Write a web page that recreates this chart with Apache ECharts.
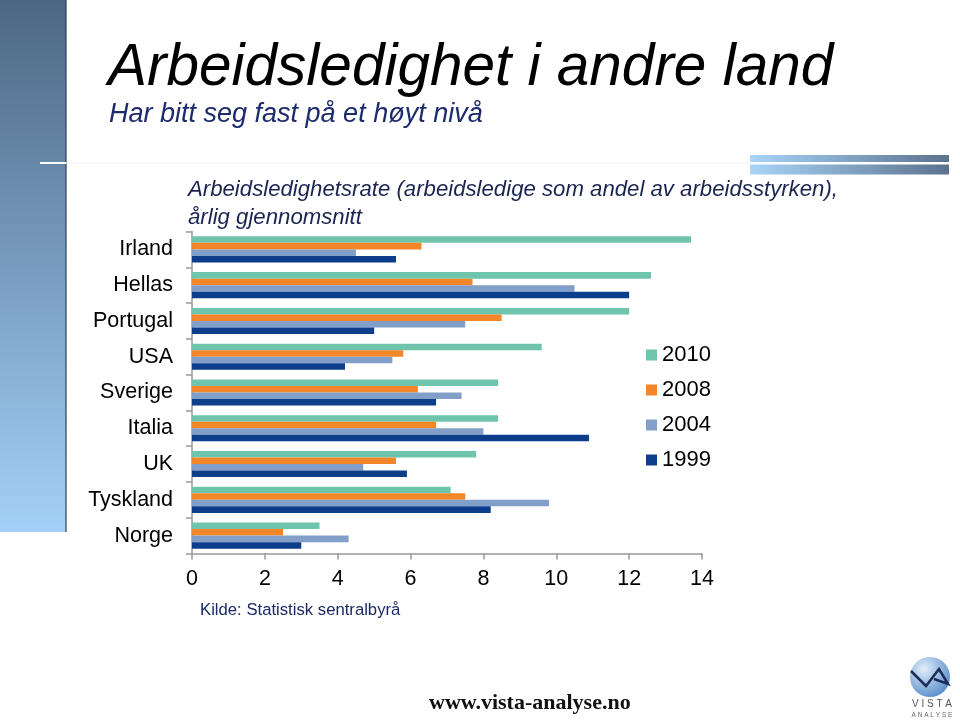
<!DOCTYPE html>
<html>
<head>
<meta charset="utf-8">
<script src="https://cdn.jsdelivr.net/npm/echarts@6/dist/echarts.min.js"></script>
<style>html,body{margin:0;padding:0;background:#fff}#c{width:960px;height:720px}</style>
</head>
<body>
<div id="c"></div>
<script>
const categories = ['Irland','Hellas','Portugal','USA','Sverige','Italia','UK','Tyskland','Norge'];
const years = ['2010','2008','2004','1999'];
const v2010 = [13.7, 12.6, 12.0, 9.6, 8.4, 8.4, 7.8, 7.1, 3.5];
const v2008 = [6.3, 7.7, 8.5, 5.8, 6.2, 6.7, 5.6, 7.5, 2.5];
const v2004 = [4.5, 10.5, 7.5, 5.5, 7.4, 8.0, 4.7, 9.8, 4.3];
const v1999 = [5.6, 12.0, 5.0, 4.2, 6.7, 10.9, 5.9, 8.2, 3.0];
const xTicks = [0, 2, 4, 6, 8, 10, 12, 14];

const colors = ['#6EC5AC', '#F4862A', '#829FC9', '#0D3E8C'];
const seriesData = [v2010, v2008, v2004, v1999];

const chart = echarts.init(document.getElementById('c'));
const FF = '"Liberation Sans", Arial, sans-serif';
chart.setOption({
  animation: false,
  color: colors,
  grid: { left: 192, right: 258, top: 231.5, bottom: 166.5, containLabel: false },
  legend: {
    data: years,
    orient: 'vertical',
    left: 641, top: 339,
    itemWidth: 11, itemHeight: 11, itemGap: 13,
    icon: 'rect',
    textStyle: { fontFamily: FF, fontSize: 22, color: '#000', padding: [0,0,0,0] }
  },
  xAxis: {
    type: 'value', min: xTicks[0], max: xTicks[xTicks.length-1], interval: 2,
    splitLine: { show: false },
    axisLine: { show: true, lineStyle: { color: '#999', width: 1.5 } },
    axisTick: { show: true, length: 6, lineStyle: { color: '#999', width: 1.5 } },
    axisLabel: { fontFamily: FF, fontSize: 21.5, color: '#000', margin: 15 }
  },
  yAxis: {
    type: 'category', data: categories, inverse: true,
    axisLine: { show: true, lineStyle: { color: '#999', width: 1.5 } },
    axisTick: { show: true, length: 6, lineStyle: { color: '#999', width: 1.5 } },
    axisLabel: { fontFamily: FF, fontSize: 21.5, color: '#000', margin: 19 }
  },
  series: years.map((y, i) => ({
    name: y, type: 'bar', data: seriesData[i],
    barGap: '0%', barCategoryGap: '27%',
    itemStyle: { color: colors[i] }
  })),
  graphic: [
    { type: 'rect', shape: { x: 0, y: 0, width: 66, height: 532 },
      style: { fill: new echarts.graphic.LinearGradient(0,0,0,1,[{offset:0,color:'#4C6784'},{offset:1,color:'#A4D1F9'}]) }, z: -1 },
    { type: 'line', shape: { x1: 66, y1: 0, x2: 66, y2: 532 }, style: { stroke: '#2E3F52', lineWidth: 1.2 } },
    { type: 'line', shape: { x1: 40, y1: 163, x2: 66, y2: 163 }, style: { stroke: '#ffffff', lineWidth: 2 } },
    { type: 'line', shape: { x1: 66, y1: 163, x2: 750, y2: 163 }, style: { stroke: '#f0f0f0', lineWidth: 1 } },
    { type: 'rect', shape: { x: 750, y: 155, width: 199, height: 7 },
      style: { fill: new echarts.graphic.LinearGradient(0,0,1,0,[{offset:0,color:'#A8D5F9'},{offset:1,color:'#5B728D'}]) } },
    { type: 'rect', shape: { x: 750, y: 164.5, width: 199, height: 10 },
      style: { fill: new echarts.graphic.LinearGradient(0,0,1,0,[{offset:0,color:'#A8D5F9'},{offset:1,color:'#5B728D'}]) } },
    { type: 'text', left: 108, top: 39,
      style: { text: 'Arbeidsledighet i andre land', fontFamily: FF, fontStyle: 'italic', fontSize: 58.5, fill: '#000' } },
    { type: 'text', left: 109, top: 101,
      style: { text: 'Har bitt seg fast på et høyt nivå', fontFamily: FF, fontStyle: 'italic', fontSize: 27, fill: '#1C2B6B' } },
    { type: 'text', left: 188, top: 176,
      style: { text: 'Arbeidsledighetsrate (arbeidsledige som andel av arbeidsstyrken),\nårlig gjennomsnitt', fontFamily: FF, fontStyle: 'italic', fontSize: 22.2, lineHeight: 28, fill: '#1A2552' } },
    { type: 'text', left: 200, top: 602,
      style: { text: 'Kilde: Statistisk sentralbyrå', fontFamily: FF, fontSize: 16.7, fill: '#1A2A66' } },
    { type: 'text', left: 429, top: 692,
      style: { text: 'www.vista-analyse.no', fontFamily: '"Liberation Serif", "DejaVu Serif", serif', fontWeight: 'bold', fontSize: 22, fill: '#111' } },
    { type: 'circle', shape: { cx: 930, cy: 677, r: 20 },
      style: { fill: new echarts.graphic.RadialGradient(0.35,0.3,0.8,[{offset:0,color:'#E2EEF9'},{offset:1,color:'#5088C8'}]) } },
    { type: 'polyline', shape: { points: [[911,671],[926,686],[939,669],[948,684],[934,679]] },
      style: { stroke: '#1C2E55', lineWidth: 2.5, fill: null, lineJoin: 'miter' } },
    { type: 'text', x: 932, y: 704, style: { text: 'V I S T A', fontFamily: FF, fontSize: 10, fill: '#555', align: 'center', verticalAlign: 'middle' } },
    { type: 'text', x: 932, y: 715, style: { text: 'A N A L Y S E', fontFamily: FF, fontSize: 6.5, fill: '#666', align: 'center', verticalAlign: 'middle' } }
  ]
});
</script>
</body>
</html>
